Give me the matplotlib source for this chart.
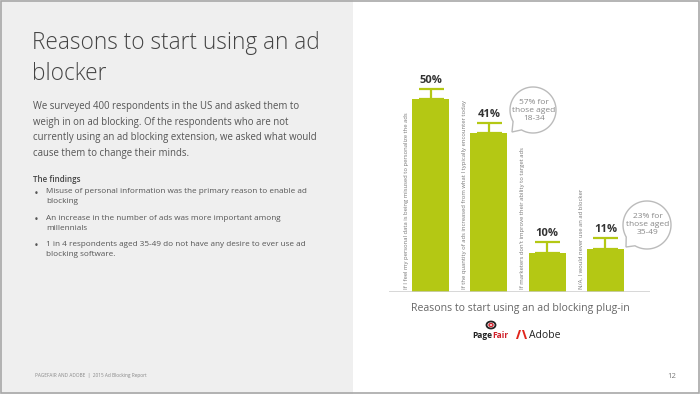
import numpy as np
import matplotlib
matplotlib.use("Agg")
import matplotlib.pyplot as plt
from matplotlib.patches import Rectangle, Polygon, Ellipse
from matplotlib.transforms import Affine2D

plt.rcParams['font.family'] = ['Open Sans', 'DejaVu Sans']

# data
reasons = [
    "If I feel my personal data is being misused to personalize the ads",
    "If the quantity of ads increased from what I typically encounter today",
    "If marketers don't improve their ability to target ads",
    "N/A, I would never use an ad blocker",
]
shares = [50, 41, 10, 11]
errors = [2.6, 2.8, 3.0, 3.0]
share_labels = ["50%", "41%", "10%", "11%"]
callouts = ["57% for\nthose aged\n18-34", "23% for\nthose aged\n35-49"]

W, H = 700, 394
fig = plt.figure(figsize=(W / 100, H / 100), dpi=100, facecolor='white')

# pixel transform, y measured from the top
px = Affine2D().scale(1, -1).translate(0, H).scale(1 / 100) + fig.dpi_scale_trans

def ftext(x, y, s, **kw):
    fig.text(x / W, 1 - y / H, s, **kw)

# left grey panel and frame
fig.patches.append(Rectangle((0, 0), 353, H, transform=px, facecolor='#efefef',
                             edgecolor='none', zorder=0))
fig.patches.append(Rectangle((0.5, 0.5), W - 2, H - 2, transform=px, facecolor='none',
                             edgecolor='#a8a8a8', lw=1.2, zorder=5))

# left text
ftext(32, 49, "Reasons to start using an ad", fontsize=16.3, fontweight='light',
      color='#444444', va='baseline')
ftext(32, 80, "blocker", fontsize=16.3, fontweight='light', color='#444444', va='baseline')
body = ("We surveyed 400 respondents in the US and asked them to\n"
        "weigh in on ad blocking. Of the respondents who are not\n"
        "currently using an ad blocking extension, we asked what would\n"
        "cause them to change their minds.")
ftext(33, 101, body, fontsize=6.9, color='#555555', va='top', linespacing=1.58)
ftext(33, 179, "The findings", fontsize=5.8, color='#444444', fontweight='semibold', va='center')
bullets = [
    ("Misuse of personal information was the primary reason to enable ad\nblocking", 193),
    ("An increase in the number of ads was more important among\nmillennials", 220),
    ("1 in 4 respondents aged 35-49 do not have any desire to ever use ad\nblocking software.", 246),
]
for txt, yy in bullets:
    ftext(34, yy, "\u2022", fontsize=6, color='#555555', va='center', family='DejaVu Sans')
    ftext(46, yy - 4.8, txt, fontsize=5.85, color='#555555', va='top', linespacing=1.6)
ftext(35, 376, "PAGEFAIR AND ADOBE  |  2015 Ad Blocking Report", fontsize=3.4,
      color='#888888', va='center')
ftext(672, 377, "12", fontsize=5.5, color='#777777', ha='center', va='center')

# bar chart
x0, x1, base, top = 389, 650, 292, 60
ax = fig.add_axes([x0 / W, 1 - base / H, (x1 - x0) / W, (base - top) / H])
ax.set_facecolor('none')
pos = np.arange(len(shares))
green = '#b4c814'
ax.bar(pos, shares, width=0.635, color=green, zorder=2)
ax.errorbar(pos, shares, yerr=[[0] * 4, errors], fmt='none', ecolor=green,
            elinewidth=1.6, capsize=9, capthick=1.6, zorder=1)
for p, v, e, lab in zip(pos, shares, errors, share_labels):
    ax.text(p, v + e + 0.7, lab, ha='center', va='bottom', fontsize=8,
            fontweight='bold', color='#333333')
for p, r in zip(pos, reasons):
    ax.text(p - 0.42, 0.8, r, rotation=90, ha='center', va='bottom', fontsize=4.2,
            color='#777777')
ax.set_xlim(-0.712, 3.765)
ax.set_ylim(0, 60)
ax.axhline(0, color='#cccccc', lw=1.8, zorder=3)
ax.axis('off')

# speech bubbles
def bubble(cx, cy, r, a1, a2, tip):
    ang = np.radians(np.linspace(a1, a1 + (360 - ((a1 - a2) % 360)), 120))
    pts = np.column_stack([cx + r * np.cos(ang), cy + r * np.sin(ang)])
    pts = np.vstack([pts, [tip]])
    fig.patches.append(Polygon(pts, closed=True, transform=px, facecolor='white',
                               edgecolor='#bbbbbb', lw=1.0, zorder=4))

bubble(533, 110, 23, 150, 120, (512, 132))
bubble(647, 225, 24, 150, 120, (626, 247))
for (cx, cy), txt in zip([(533, 110), (647, 225)], callouts):
    ftext(cx + 1, cy, txt, fontsize=6.0, color='#888888', ha='center', va='center',
          linespacing=1.2, zorder=6)

ftext(520, 309, "Reasons to start using an ad blocking plug-in", fontsize=7.6,
      color='#666666', ha='center', va='center')

# logos
ftext(492, 335, "Page", fontsize=6, fontweight='bold', color='#222222', ha='right', va='center')
ftext(492, 335, "Fair", fontsize=6, fontweight='bold', color='#d0202a', ha='left', va='center')
fig.patches.append(Ellipse((491, 325), 9, 7, transform=px, facecolor='none',
                           edgecolor='#222222', lw=1.3, zorder=5))
fig.patches.append(Ellipse((491, 325), 4, 3, transform=px, facecolor='none',
                           edgecolor='#d0202a', lw=1.0, zorder=5))
fig.patches.append(Polygon([(516, 339), (519, 330), (521, 330), (518, 339)], transform=px,
                           facecolor='#e1251b', edgecolor='none', zorder=5))
fig.patches.append(Polygon([(522, 330), (524, 330), (527, 339), (525, 339)], transform=px,
                           facecolor='#e1251b', edgecolor='none', zorder=5))
ftext(529, 335, "Adobe", fontsize=7.5, color='#222222', ha='left', va='center')

fig.savefig("out.png", dpi=100, facecolor=fig.get_facecolor())
